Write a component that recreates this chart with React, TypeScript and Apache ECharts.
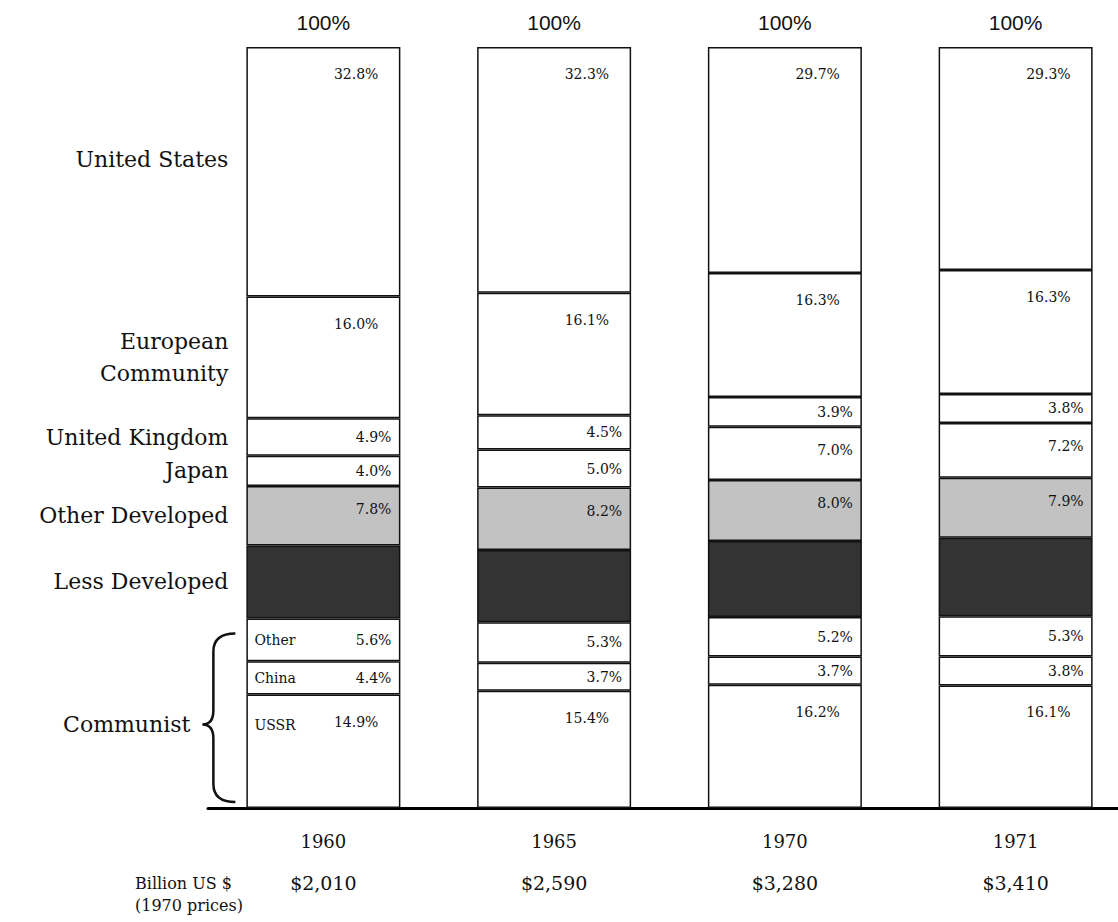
import React, { useEffect, useRef } from "react";
import * as echarts from "echarts";

// ---- data ----
const years = ["1960", "1965", "1970", "1971"];
const totals = ["$2,010", "$2,590", "$3,280", "$3,410"];
const ussr = [14.9, 15.4, 16.2, 16.1];
const china = [4.4, 3.7, 3.7, 3.8];
const otherCommunist = [5.6, 5.3, 5.2, 5.3];
const lessDeveloped = [9.6, 9.5, 10.0, 10.3];
const otherDeveloped = [7.8, 8.2, 8.0, 7.9];
const japan = [4.0, 5.0, 7.0, 7.2];
const unitedKingdom = [4.9, 4.5, 3.9, 3.8];
const europeanCommunity = [16.0, 16.1, 16.3, 16.3];
const unitedStates = [32.8, 32.3, 29.7, 29.3];
const seriesNames = [
  "USSR",
  "China",
  "Other",
  "Less Developed",
  "Other Developed",
  "Japan",
  "United Kingdom",
  "European\nCommunity",
  "United States",
];
const seriesData = [
  ussr,
  china,
  otherCommunist,
  lessDeveloped,
  otherDeveloped,
  japan,
  unitedKingdom,
  europeanCommunity,
  unitedStates,
];
const groupLabel = "Communist";
const topLabel = "100%";
const unitLabel = "Billion US $\n(1970 prices)";

// ---- styles ----
const BAR_W = 154;
const SERIF = "DejaVu Serif";
const fills = ["#ffffff", "#ffffff", "#ffffff", "#333333", "#c2c2c2", "#ffffff", "#ffffff", "#ffffff", "#ffffff"];

function valueLabel(v: number) {
  if (v >= 10) {
    return { position: [BAR_W - 22, 27], align: "right", verticalAlign: "middle" };
  }
  if (v >= 6.5) {
    return { position: [BAR_W - 9, 23], align: "right", verticalAlign: "middle" };
  }
  return { position: "insideRight", distance: 9 };
}

export default function App() {
  const ref = useRef<HTMLDivElement>(null);

  useEffect(() => {
    if (!ref.current) return;
    const chart = echarts.init(ref.current, null, { renderer: "svg" });

    const mainSeries = seriesData.map((arr, i) => ({
      type: "bar",
      name: seriesNames[i],
      stack: "main",
      xAxisIndex: 0,
      barWidth: BAR_W,
      barGap: "-100%",
      silent: true,
      z: 2,
      itemStyle: { color: fills[i], borderColor: "#111", borderWidth: 1.5 },
      label: {
        show: i !== 3,
        fontFamily: SERIF,
        fontSize: 14,
        color: "#111",
        formatter: (p: any) => Number(p.value).toFixed(1) + "%",
      },
      data: arr.map((v) => ({ value: v, label: valueLabel(v) })),
    }));

    const nameSeries = seriesData.map((arr, i) => {
      let label: any;
      if (i < 3) {
        label =
          i === 0
            ? { position: [8, 30], align: "left", verticalAlign: "middle" }
            : { position: "insideLeft", distance: 8 };
        label = { ...label, fontSize: 14, fontFamily: SERIF, color: "#111" };
      } else {
        label = {
          position: "left",
          distance: 18,
          fontSize: 22,
          fontFamily: SERIF,
          color: "#111",
          align: "right",
          lineHeight: 32,
          offset: i === 8 ? [0, -12] : [0, 0],
        };
      }
      return {
        type: "bar",
        name: "label-" + seriesNames[i],
        stack: "names",
        xAxisIndex: 0,
        barWidth: BAR_W,
        barGap: "-100%",
        silent: true,
        z: 5,
        itemStyle: { color: "rgba(0,0,0,0)", borderWidth: 0 },
        label: { show: true, formatter: seriesNames[i], ...label },
        data: arr.map((v, j) => (j === 0 ? v : "-")),
      };
    });

    chart.setOption({
      animation: false,
      backgroundColor: "#ffffff",
      grid: { left: 208, right: 0, top: 47, bottom: 114 },
      xAxis: [
        {
          type: "category",
          data: years,
          position: "bottom",
          axisLine: { show: true, lineStyle: { color: "#000", width: 3 } },
          axisTick: { show: false },
          axisLabel: {
            margin: 13,
            formatter: (v: string, idx: number) => `{y|${v}}\n{d|${totals[idx]}}`,
            rich: {
              y: { fontFamily: SERIF, fontSize: 18, color: "#111", lineHeight: 41 },
              d: { fontFamily: SERIF, fontSize: 19, color: "#111", lineHeight: 41 },
            },
          },
        },
        {
          type: "category",
          data: years,
          position: "top",
          axisLine: { show: false },
          axisTick: { show: false },
          axisLabel: {
            margin: 14,
            formatter: () => topLabel,
            fontFamily: "Liberation Sans",
            fontSize: 21,
            color: "#111",
          },
        },
      ],
      yAxis: {
        type: "value",
        min: 0,
        max: 100,
        show: false,
        splitLine: { show: false },
      },
      series: [...mainSeries, ...nameSeries],
    });

    // brace and group label, placed through the chart's own scales
    const communistTop = ussr[0] + china[0] + otherCommunist[0];
    const pTop = chart.convertToPixel({ seriesIndex: 0 }, [0, communistTop]) as number[];
    const pBottom = chart.convertToPixel({ seriesIndex: 0 }, [0, 0]) as number[];
    const barLeft = pTop[0] - BAR_W / 2;
    const braceTop = pTop[1] + 15;
    const braceBottom = pBottom[1] - 6;
    const h = braceBottom - braceTop;
    const mid = h * 0.54;
    const d =
      `M33,0 C20,0 11,5 11,18 L11,${mid - 14} C11,${mid - 4} 7,${mid} 0,${mid} ` +
      `C7,${mid} 11,${mid + 4} 11,${mid + 14} L11,${h - 18} C11,${h - 5} 20,${h} 33,${h}`;
    echarts.graphic.registerShape("brace", echarts.graphic.extendPath(d, {}));

    chart.setOption({
      graphic: [
        {
          type: "brace",
          x: barLeft - 44,
          y: braceTop,
          silent: true,
          style: { fill: "none", stroke: "#111", lineWidth: 2.5 },
        },
        {
          type: "text",
          x: barLeft - 56,
          y: braceTop + mid,
          silent: true,
          style: {
            text: groupLabel,
            font: `22px "${SERIF}"`,
            fill: "#111",
            textAlign: "right",
            textVerticalAlign: "middle",
          },
        },
        {
          type: "text",
          x: 135,
          y: 872,
          silent: true,
          style: {
            text: unitLabel,
            font: `16px "${SERIF}"`,
            lineHeight: 22,
            fill: "#111",
            textAlign: "left",
            textVerticalAlign: "top",
          },
        },
      ],
    });

    return () => chart.dispose();
  }, []);

  return (
    <div
      style={{
        position: "absolute",
        left: 0,
        top: 0,
        width: 1118,
        height: 922,
        overflow: "hidden",
        background: "#fff",
      }}
    >
      <div ref={ref} style={{ width: 1131, height: 922 }} />
    </div>
  );
}
